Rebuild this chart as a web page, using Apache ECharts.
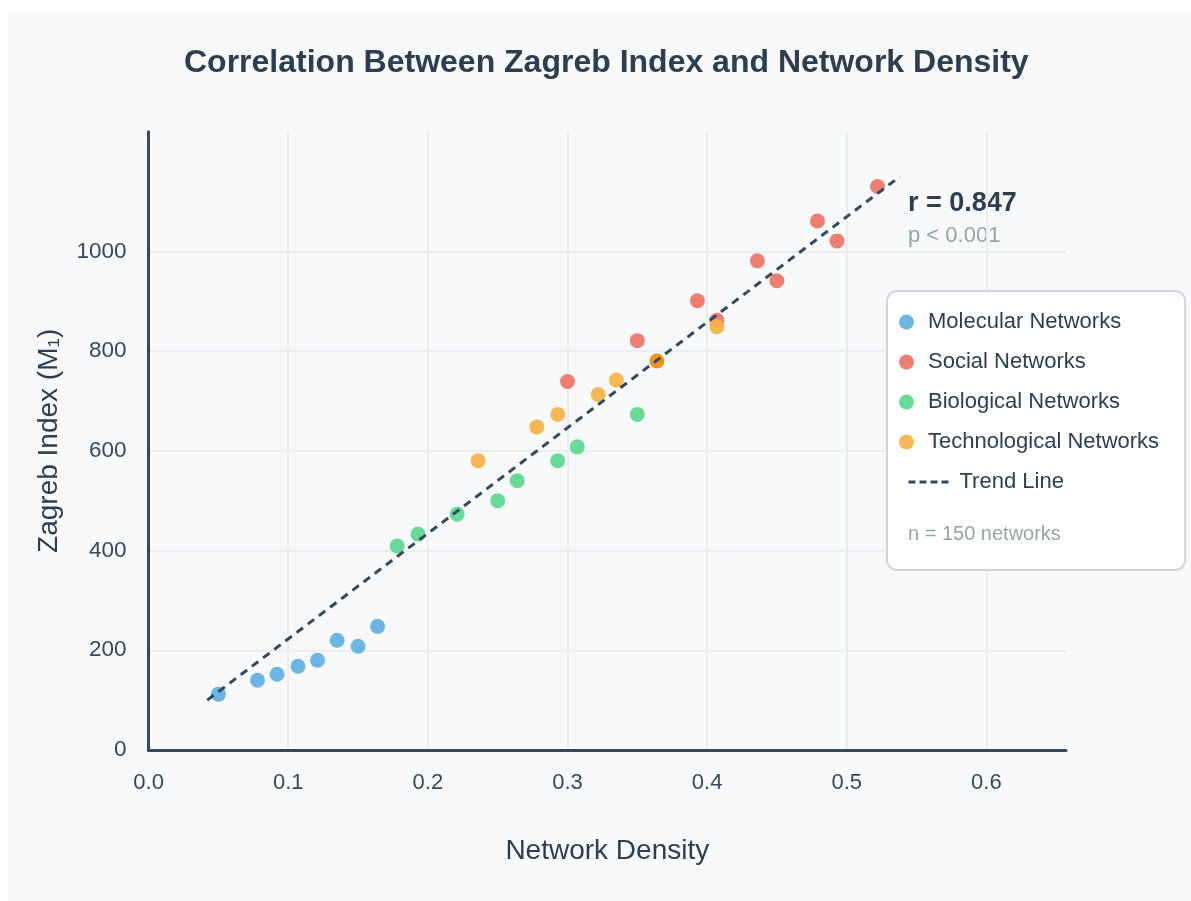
<!DOCTYPE html>
<html lang="en">
<head>
<meta charset="UTF-8">
<title>Zagreb Index vs Network Density</title>
<script src="https://cdn.jsdelivr.net/npm/echarts@6/dist/echarts.min.js"></script>
<style>
    html, body { margin: 0; padding: 0; background: #ffffff; }
    #chart {
        position: absolute;
        left: 8px;
        top: 12px;
        width: 1183px;
        height: 889px;
        background: #f8f9fa;
    }
</style>
</head>
<body>
<div id="chart"></div>
<script>
    // data: [density, zagreb index]
    var molecularPts = [[0.050, 112], [0.078, 140], [0.092, 152], [0.107, 168], [0.121, 180], [0.135, 220], [0.150, 208], [0.164, 248]];
    var socialPts = [[0.300, 739], [0.350, 821], [0.393, 901], [0.407, 862], [0.436, 981], [0.450, 941], [0.479, 1061], [0.493, 1021], [0.522, 1130]];
    var biologicalPts = [[0.178, 409], [0.193, 433], [0.221, 473], [0.250, 500], [0.264, 540], [0.293, 580], [0.307, 608], [0.350, 673]];
    var technologicalPts = [[0.236, 580], [0.278, 648], [0.293, 673], [0.322, 713], [0.335, 742], [0.364, 780], [0.407, 849]];
    var trendLine = [[0.042, 100], [0.538, 1150]];

    var xTicks = [0, 0.1, 0.2, 0.3, 0.4, 0.5, 0.6];
    var yTicks = [0, 200, 400, 600, 800, 1000];

    var FONT = '"Liberation Sans", Arial, Helvetica, sans-serif';
    var DARK = '#2c3e50';

    function scatter(name, pts, color) {
        return {
            name: name,
            type: 'scatter',
            data: pts,
            symbolSize: 15,
            itemStyle: { color: color, opacity: 0.9 },
            z: 2
        };
    }

    // one orange point is drawn darker in the reference
    var techSeries = scatter('Technological Networks', technologicalPts, '#f5b041');
    techSeries.data = technologicalPts.map(function (p, i) {
        return i === 5 ? { value: p, itemStyle: { color: '#f0941f', opacity: 1 } } : p;
    });

    var chart = echarts.init(document.getElementById('chart'));
    var option = {
        backgroundColor: '#f8f9fa',
        animation: false,
        textStyle: { fontFamily: FONT },
        title: {
            text: 'Correlation Between Zagreb Index and Network Density',
            left: 171,
            top: 30,
            textStyle: { fontSize: 32, fontWeight: 'bold', color: DARK, fontFamily: FONT }
        },
        grid: { left: 140.6, top: 119.7, right: 125, bottom: 151 },
        xAxis: {
            type: 'value',
            min: 0,
            max: 0.657,
            name: 'Network Density',
            nameLocation: 'middle',
            nameGap: 87,
            nameTextStyle: { fontSize: 28, color: DARK },
            axisLine: { lineStyle: { color: '#34495e', width: 3 } },
            axisTick: { show: false, customValues: xTicks },
            axisLabel: {
                customValues: xTicks,
                fontSize: 22,
                color: '#34495e',
                margin: 22,
                formatter: function (v) { return v.toFixed(1); }
            },
            splitLine: { show: true, lineStyle: { color: '#eaedf0', width: 2 } }
        },
        yAxis: {
            type: 'value',
            min: 0,
            max: 1240,
            name: 'Zagreb Index (M₁)',
            nameLocation: 'middle',
            nameGap: 85,
            nameTextStyle: { fontSize: 28, color: DARK },
            axisLine: { show: true, lineStyle: { color: '#34495e', width: 3 } },
            axisTick: { show: false, customValues: yTicks },
            axisLabel: {
                customValues: yTicks,
                fontSize: 22.5,
                color: '#34495e',
                margin: 22,
                formatter: function (v) { return String(v); }
            },
            splitLine: { show: true, lineStyle: { color: '#eaedf0', width: 2 } }
        },
        legend: [{
            data: ['Molecular Networks', 'Social Networks', 'Biological Networks', 'Technological Networks'],
            orient: 'vertical',
            left: 879,
            top: 279,
            icon: 'circle',
            itemWidth: 15,
            itemHeight: 15,
            itemGap: 18,
            padding: [20, 26, 117, 12],
            backgroundColor: '#ffffff',
            borderColor: '#cfd5da',
            borderWidth: 2,
            borderRadius: 10,
            textStyle: { fontSize: 22, lineHeight: 22, color: DARK, padding: [0, 0, 0, 9] }
        }, {
            data: ['Trend Line'],
            orient: 'vertical',
            left: 899,
            top: 459,
            padding: 0,
            itemWidth: 40,
            itemHeight: 14,
            itemStyle: { color: 'rgba(0,0,0,0)', borderColor: 'rgba(0,0,0,0)', borderWidth: 0 },
            lineStyle: { type: [7, 4], width: 3, color: '#34495e' },
            textStyle: { fontSize: 22, lineHeight: 22, color: DARK, padding: [0, 0, 0, 6] }
        }],
        graphic: [{
            type: 'text',
            left: 900,
            top: 178,
            style: { text: 'r = 0.847', font: 'bold 27px ' + FONT, fill: DARK }
        }, {
            type: 'text',
            left: 900,
            top: 213,
            style: { text: 'p < 0.001', font: '22px ' + FONT, fill: '#95a5a6' }
        }, {
            type: 'text',
            left: 900,
            top: 512,
            z: 100,
            style: { text: 'n = 150 networks', font: '20px ' + FONT, fill: '#95a5a6' }
        }],
        series: [
            scatter('Molecular Networks', molecularPts, '#5dade2'),
            scatter('Social Networks', socialPts, '#ec7063'),
            scatter('Biological Networks', biologicalPts, '#58d68d'),
            techSeries,
            {
                name: 'Trend Line',
                type: 'line',
                data: trendLine,
                symbol: 'none',
                showSymbol: false,
                itemStyle: { color: '#34495e' },
                lineStyle: { color: '#34495e', width: 3, type: [8, 6] },
                z: 3
            }
        ]
    };
    chart.setOption(option);
</script>
</body>
</html>
